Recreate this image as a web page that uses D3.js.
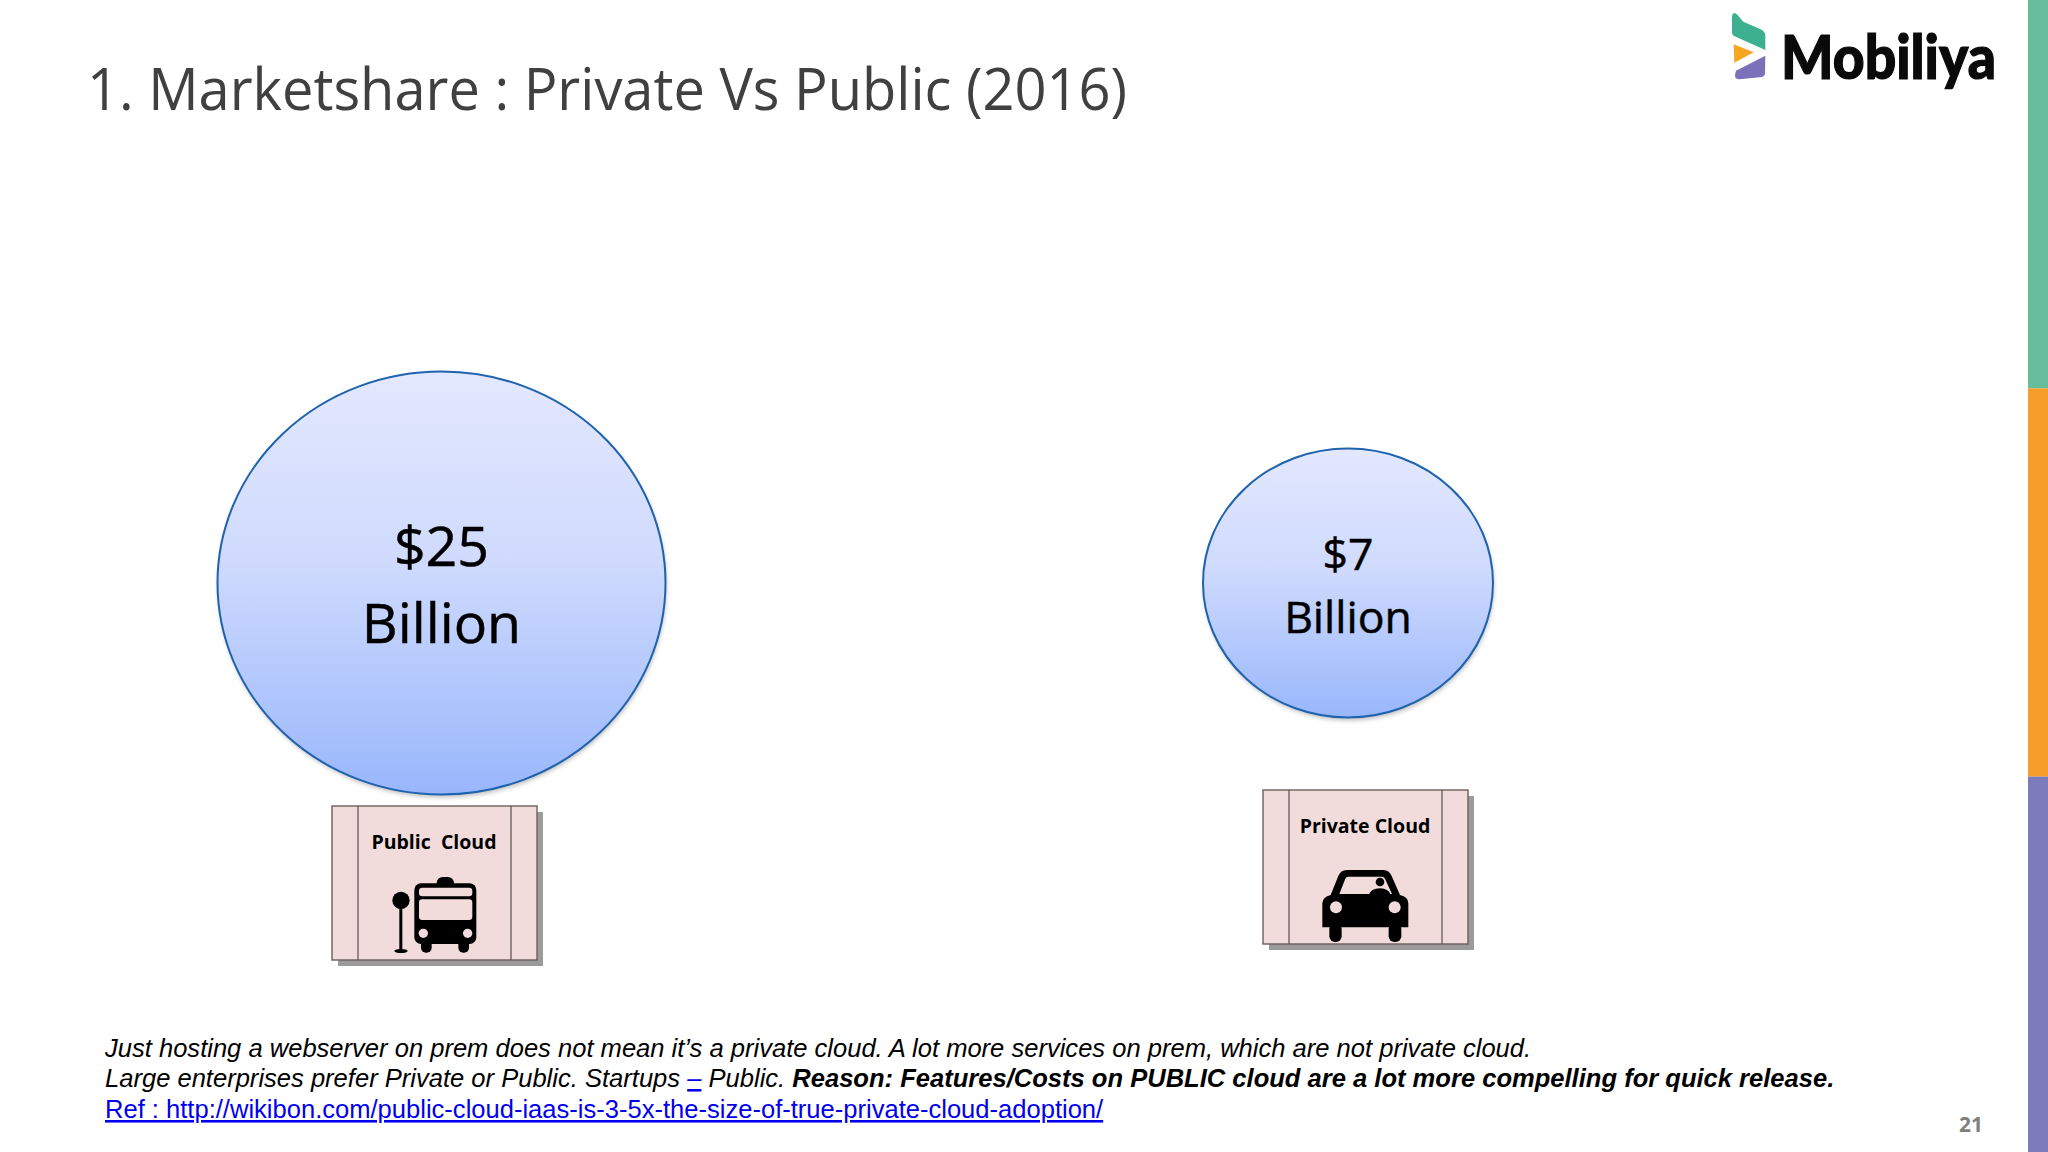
<!DOCTYPE html>
<html>
<head>
<meta charset="utf-8">
<script src="https://cdn.jsdelivr.net/npm/d3@7"></script>
<style>
html, body { margin: 0; padding: 0; background: #fff; }
svg { display: block; }
</style>
</head>
<body>
<svg id="chart"></svg>
<script>
// data
const categories = ['Public Cloud', 'Private Cloud']
const marketValues = [25, 7]
const valueLabels = ['$25', '$7']
const unitLabel = 'Billion'
const titleText = '1. Marketshare : Private Vs Public (2016)'
const pageNumber = '21'
const sidebarColors = ['#66bd9b', '#f59c2b', '#7c7bbb']

const width = 2048
const height = 1152
const uiFont = '"Open Sans", sans-serif'
const noteFont = '"Liberation Sans", Arial, sans-serif'

const svg = d3.select('#chart').attr('width', width).attr('height', height)

// scales
const x = d3.scalePoint().domain(categories).range([441.5, 1348])
const rx = d3.scaleLinear().domain([7, 25]).range([145, 224])
const ry = d3.scaleLinear().domain([7, 25]).range([134.5, 211.5])
const fontSize = d3.scaleLinear().domain([7, 25]).range([44.5, 55.5])
const sidebar = d3.scaleBand().domain(sidebarColors).range([0, 1165])

// defs
const defs = svg.append('defs')
const gradient = defs.append('linearGradient')
    .attr('id', 'bubble').attr('x1', 0).attr('y1', 0).attr('x2', 0).attr('y2', 1)
gradient.append('stop').attr('offset', '0%').attr('stop-color', '#e3e8fe')
gradient.append('stop').attr('offset', '45%').attr('stop-color', '#cfdafd')
gradient.append('stop').attr('offset', '100%').attr('stop-color', '#98b7fb')

const blur = defs.append('filter').attr('id', 'soft')
    .attr('x', '-10%').attr('y', '-10%').attr('width', '120%').attr('height', '125%')
blur.append('feGaussianBlur').attr('stdDeviation', 2)

// sidebar
svg.selectAll('rect.side')
    .data(sidebarColors)
    .join('rect')
    .attr('class', 'side')
    .attr('x', 2028)
    .attr('y', d => sidebar(d))
    .attr('width', 20)
    .attr('height', sidebar.bandwidth())
    .attr('fill', d => d)

// title
svg.append('text')
    .attr('x', 87)
    .attr('y', 109.5)
    .attr('font-family', uiFont)
    .attr('font-size', 58)
    .attr('fill', '#404040')
    .attr('textLength', 1040)
    .attr('lengthAdjust', 'spacingAndGlyphs')
    .text(titleText)

// logo
const logo = svg.append('g').attr('transform', 'translate(1700,0) scale(0.3333)')
logo.append('path').attr('fill', '#3db08f')
    .attr('d', 'M96 48 Q100 32 112 44 L130 65 L182 88 Q196 94 196 108 L196 150 L102 108 Q96 104 96 98 Z')
logo.append('path').attr('fill', '#f5a623')
    .attr('d', 'M101 133 L161 157 L103 188 Z')
logo.append('path').attr('fill', '#7b70ba')
    .attr('d', 'M196 167 L195 222 Q193 231 180 232 L118 238 Q104 238 105 225 L108 212 Z')
svg.append('text')
    .attr('x', 1781)
    .attr('y', 78.5)
    .attr('font-family', 'Lato, sans-serif')
    .attr('font-weight', 900)
    .attr('font-size', 60)
    .attr('fill', '#0a0a0a')
    .attr('stroke', '#0a0a0a')
    .attr('stroke-width', 1.2)
    .attr('textLength', 215)
    .attr('lengthAdjust', 'spacingAndGlyphs')
    .text('Mobiliya')

// bubbles
const bubbles = svg.selectAll('g.bubble')
    .data(categories)
    .join('g')
    .attr('class', 'bubble')

bubbles.append('ellipse')
    .attr('cx', d => x(d) + 1)
    .attr('cy', 586)
    .attr('rx', (d, i) => rx(marketValues[i]))
    .attr('ry', (d, i) => ry(marketValues[i]))
    .attr('fill', '#8f8f8f')
    .attr('opacity', 0.55)
    .attr('filter', 'url(#soft)')

bubbles.append('ellipse')
    .attr('cx', d => x(d))
    .attr('cy', 583)
    .attr('rx', (d, i) => rx(marketValues[i]))
    .attr('ry', (d, i) => ry(marketValues[i]))
    .attr('fill', 'url(#bubble)')
    .attr('stroke', '#1f62ae')
    .attr('stroke-width', 2)

bubbles.append('text')
    .attr('x', d => x(d))
    .attr('y', (d, i) => marketValues[i] > 10 ? 566 : 570)
    .attr('text-anchor', 'middle')
    .attr('font-family', uiFont)
    .attr('font-size', (d, i) => fontSize(marketValues[i]))
    .attr('fill', '#000')
    .attr('stroke', '#000')
    .attr('stroke-width', 0.5)
    .text((d, i) => valueLabels[i])

bubbles.append('text')
    .attr('x', d => x(d))
    .attr('y', (d, i) => marketValues[i] > 10 ? 643 : 633)
    .attr('text-anchor', 'middle')
    .attr('font-family', uiFont)
    .attr('font-size', (d, i) => fontSize(marketValues[i]))
    .attr('fill', '#000')
    .attr('stroke', '#000')
    .attr('stroke-width', 0.5)
    .text(unitLabel)

// process boxes
function drawBox(x0, y0, label, labelX)
{
    const g = svg.append('g').attr('transform', `translate(${x0},${y0})`)
    g.append('rect').attr('x', 6).attr('y', 6).attr('width', 205).attr('height', 154).attr('fill', '#9b9b9b')
    g.append('rect').attr('width', 205).attr('height', 154)
        .attr('fill', '#f2dcdb').attr('stroke', '#6b5f5f').attr('stroke-width', 1.4)
    g.selectAll('line')
        .data([26, 179])
        .join('line')
        .attr('x1', d => d).attr('x2', d => d)
        .attr('y1', 0).attr('y2', 154)
        .attr('stroke', '#5a4f4f').attr('stroke-width', 1.2)
    g.append('text')
        .attr('x', labelX)
        .attr('y', 43)
        .attr('text-anchor', 'middle')
        .attr('font-family', uiFont)
        .attr('font-weight', 700)
        .attr('font-size', 19.5)
        .attr('fill', '#000')
        .attr('xml:space', 'preserve')
        .text(label)
}
drawBox(332, 806, 'Public  Cloud', 102)
drawBox(1263, 790, 'Private Cloud', 102)

// bus icon, drawn in zoomed reference units
const bus = svg.append('g').attr('transform', 'translate(310,780) scale(0.3333)')
bus.append('rect').attr('x', 380).attr('y', 291).attr('width', 52).attr('height', 40).attr('rx', 18)
bus.append('rect').attr('x', 313).attr('y', 310).attr('width', 186).attr('height', 182).attr('rx', 20)
bus.append('rect').attr('x', 333).attr('y', 470).attr('width', 32).attr('height', 48).attr('rx', 15)
bus.append('rect').attr('x', 445).attr('y', 470).attr('width', 32).attr('height', 48).attr('rx', 15)
bus.append('rect').attr('x', 327).attr('y', 323).attr('width', 160).attr('height', 26).attr('rx', 10).attr('fill', '#f2dcdb')
bus.append('rect').attr('x', 327).attr('y', 358).attr('width', 160).attr('height', 62).attr('rx', 10).attr('fill', '#f2dcdb')
bus.append('circle').attr('cx', 340).attr('cy', 460).attr('r', 14).attr('fill', '#f2dcdb')
bus.append('circle').attr('cx', 473).attr('cy', 460).attr('r', 14).attr('fill', '#f2dcdb')
bus.append('circle').attr('cx', 273).attr('cy', 361).attr('r', 26)
bus.append('rect').attr('x', 268).attr('y', 380).attr('width', 9).attr('height', 132)
bus.append('ellipse').attr('cx', 273).attr('cy', 513).attr('rx', 20).attr('ry', 6)

// car icon, drawn in zoomed reference units
const car = svg.append('g').attr('transform', 'translate(1240,770) scale(0.3333)')
car.append('path')
    .attr('d', 'M247 400 Q248 380 272 375 L295 318 Q302 300 320 300 L430 300 Q448 300 455 318 L480 375 Q505 380 505 400 L505 472 L247 472 Z')
car.append('rect').attr('x', 268).attr('y', 460).attr('width', 37).attr('height', 56).attr('rx', 17)
car.append('rect').attr('x', 446).attr('y', 460).attr('width', 38).attr('height', 56).attr('rx', 17)
car.append('path').attr('fill', '#f2dcdb')
    .attr('d', 'M298 372 L316 326 Q318 320 326 320 L425 320 Q432 320 435 326 L456 372 Z')
car.append('circle').attr('cx', 288).attr('cy', 412).attr('r', 18).attr('fill', '#f2dcdb')
car.append('circle').attr('cx', 464).attr('cy', 412).attr('r', 18).attr('fill', '#f2dcdb')
car.append('circle').attr('cx', 420).attr('cy', 336).attr('r', 13)
car.append('path').attr('d', 'M388 372 Q392 357 420 355 Q446 357 451 372 Z')

// notes
const notes = svg.append('g')
    .attr('font-family', noteFont)
    .attr('font-size', 25.55)

notes.append('text')
    .attr('x', 105).attr('y', 1057)
    .attr('font-style', 'italic')
    .attr('fill', '#000')
    .text('Just hosting a webserver on prem does not mean it\u2019s a private cloud. A lot more services on prem, which are not private cloud.')

const line2 = notes.append('text')
    .attr('x', 105).attr('y', 1087)
    .attr('font-style', 'italic')
    .attr('fill', '#000')
line2.append('tspan').text('Large enterprises prefer Private or Public. Startups ')
line2.append('tspan').attr('fill', '#0000ee').attr('text-decoration', 'underline').text('\u2013')
line2.append('tspan').text(' Public. ')
line2.append('tspan').attr('font-weight', 700)
    .text('Reason: Features/Costs on PUBLIC cloud are a lot more compelling for quick release.')

notes.append('text')
    .attr('x', 105).attr('y', 1118)
    .attr('fill', '#0000ee')
    .attr('text-decoration', 'underline')
    .text('Ref : http://wikibon.com/public-cloud-iaas-is-3-5x-the-size-of-true-private-cloud-adoption/')

// page number
svg.append('text')
    .attr('x', 1983)
    .attr('y', 1132)
    .attr('text-anchor', 'end')
    .attr('font-family', uiFont)
    .attr('font-weight', 700)
    .attr('font-size', 21)
    .attr('fill', '#7f7f7f')
    .text(pageNumber)
</script>
</body>
</html>
